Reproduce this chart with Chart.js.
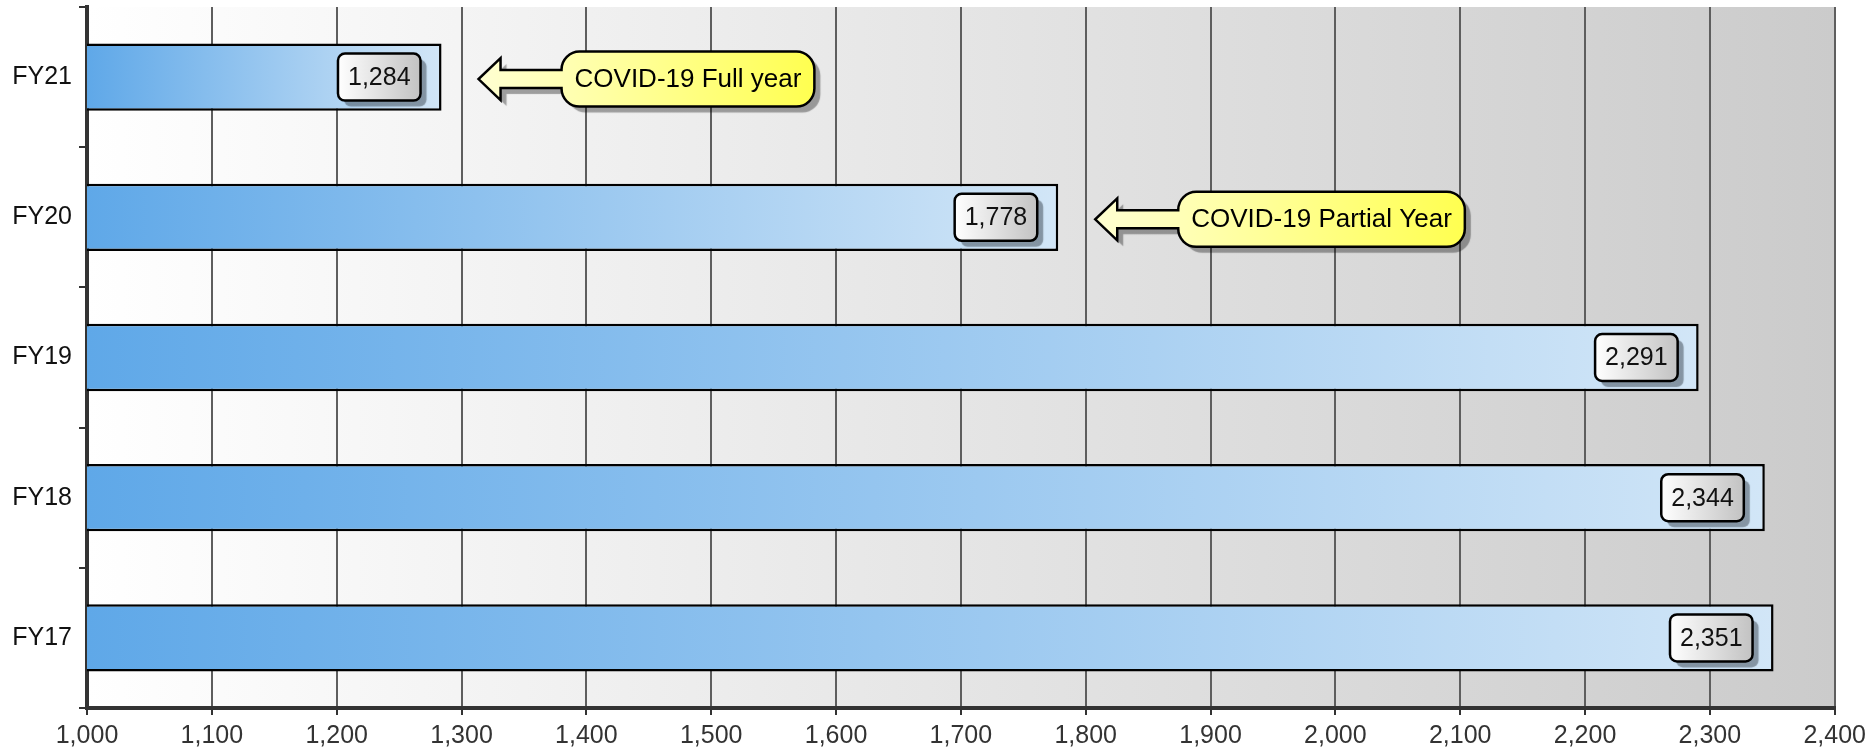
<!DOCTYPE html>
<html>
<head>
<meta charset="utf-8">
<script src="https://cdn.jsdelivr.net/npm/chart.js@4"></script>
<style>
  body { margin: 0; background: #fff; }
  #wrap { width: 1872px; height: 755px; }
</style>
</head>
<body>
<div id="wrap"><canvas id="myChart" width="1872" height="755"></canvas></div>
<script>
// data
var categories = ['FY21', 'FY20', 'FY19', 'FY18', 'FY17'];
var values = [1284, 1778, 2291, 2344, 2351];
var notes = ['COVID-19 Full year', 'COVID-19 Partial Year', '', '', ''];
var xMin = 1000;
var xMax = 2400;
var xStep = 100;

var FONT = '"Liberation Sans", Arial, sans-serif';

function roundRect(ctx, x, y, w, h, r) {
  ctx.beginPath();
  ctx.moveTo(x + r, y);
  ctx.arcTo(x + w, y, x + w, y + h, r);
  ctx.arcTo(x + w, y + h, x, y + h, r);
  ctx.arcTo(x, y + h, x, y, r);
  ctx.arcTo(x, y, x + w, y, r);
  ctx.closePath();
}

/* plot background */
var bgPlugin = {
  id: 'bg',
  beforeDraw: function(chart) {
    var ctx = chart.ctx, a = chart.chartArea;
    var g = ctx.createLinearGradient(a.left, 0, a.right, 0);
    g.addColorStop(0, '#ffffff');
    g.addColorStop(1, '#cbcbcb');
    ctx.save();
    ctx.fillStyle = g;
    ctx.fillRect(a.left, a.top, a.right - a.left, a.bottom - a.top);
    ctx.restore();
  }
};

/* value boxes and callouts */
var labelPlugin = {
  id: 'labels',
  afterDatasetsDraw: function(chart) {
    var ctx = chart.ctx;
    var meta = chart.getDatasetMeta(0);
    ctx.save();
    meta.data.forEach(function(bar, i) {
      var txt = values[i].toLocaleString('en-US');
      var end = bar.x, cy = bar.y;

      // value box
      ctx.font = '25px ' + FONT;
      var tw = ctx.measureText(txt).width;
      var bw = tw + 20, bh = 47;
      var bx = end - 21 - bw, by = cy - bh / 2;
      ctx.save();
      ctx.shadowColor = 'rgba(40,50,60,0.45)';
      ctx.shadowOffsetX = 6;
      ctx.shadowOffsetY = 6;
      ctx.shadowBlur = 1;
      var g = ctx.createLinearGradient(bx, 0, bx + bw, 0);
      g.addColorStop(0, '#ffffff');
      g.addColorStop(1, '#c2c2c2');
      roundRect(ctx, bx, by, bw, bh, 7);
      ctx.fillStyle = g;
      ctx.fill();
      ctx.restore();
      roundRect(ctx, bx, by, bw, bh, 7);
      ctx.lineWidth = 2.5;
      ctx.strokeStyle = '#000';
      ctx.stroke();
      ctx.fillStyle = '#111';
      ctx.textAlign = 'center';
      ctx.textBaseline = 'middle';
      ctx.fillText(txt, bx + bw / 2, cy + 1);

      // callout with arrow
      if (notes[i]) {
        ctx.font = '26px ' + FONT;
        var nw = ctx.measureText(notes[i]).width;
        var tx = end + 37;
        var hx = tx + 22;
        var cx = tx + 83;
        var cw = nw + 26, ch = 55, r = 18;
        var cyy = cy + 2;
        var top = cyy - ch / 2;
        ctx.beginPath();
        ctx.moveTo(cx + r, top);
        ctx.arcTo(cx + cw, top, cx + cw, top + ch, r);
        ctx.arcTo(cx + cw, top + ch, cx, top + ch, r);
        ctx.arcTo(cx, top + ch, cx, cyy + 9, r);
        ctx.lineTo(cx, cyy + 9);
        ctx.lineTo(hx, cyy + 9);
        ctx.lineTo(hx, cyy + 21);
        ctx.lineTo(tx, cyy);
        ctx.lineTo(hx, cyy - 21);
        ctx.lineTo(hx, cyy - 9);
        ctx.lineTo(cx, cyy - 9);
        ctx.arcTo(cx, top, cx + r, top, r);
        ctx.closePath();
        var yg = ctx.createLinearGradient(tx, 0, cx + cw, 0);
        yg.addColorStop(0, '#ffffd2');
        yg.addColorStop(0.25, '#ffffb4');
        yg.addColorStop(1, '#ffff50');
        ctx.save();
        ctx.shadowColor = 'rgba(0,0,0,0.35)';
        ctx.shadowOffsetX = 6;
        ctx.shadowOffsetY = 6;
        ctx.shadowBlur = 1;
        ctx.fillStyle = yg;
        ctx.fill();
        ctx.restore();
        ctx.lineWidth = 2.5;
        ctx.lineJoin = 'miter';
        ctx.strokeStyle = '#000';
        ctx.stroke();
        ctx.fillStyle = '#000';
        ctx.textAlign = 'left';
        ctx.textBaseline = 'middle';
        ctx.fillText(notes[i], cx + 13, cyy + 1);
      }
    });
    ctx.restore();
  }
};

function barFill(c) {
  var chart = c.chart;
  if (!chart.chartArea) return '#7db8ec';
  var x0 = chart.scales.x.getPixelForValue(xMin);
  var x1 = chart.scales.x.getPixelForValue(values[c.dataIndex]);
  var g = chart.ctx.createLinearGradient(x0, 0, x1, 0);
  g.addColorStop(0, '#5fa8e8');
  g.addColorStop(1, '#d2e6f7');
  return g;
}

var canvas = document.getElementById('myChart');
var chart = new Chart(canvas, {
  type: 'bar',
  data: {
    labels: categories,
    datasets: [{
      label: 'Value',
      data: values,
      backgroundColor: barFill,
      borderColor: '#000',
      borderWidth: 2.5,
      borderSkipped: false,
      barPercentage: 0.48,
      categoryPercentage: 1
    }]
  },
  options: {
    indexAxis: 'y',
    responsive: false,
    animation: false,
    devicePixelRatio: 1,
    layout: { padding: { left: 0, right: 36, top: 7, bottom: 0 } },
    plugins: {
      legend: { display: false },
      tooltip: { enabled: false },
      title: { display: false }
    },
    scales: {
      x: {
        type: 'linear',
        min: xMin,
        max: xMax,
        afterFit: function(s) { s.height = 47; },
        ticks: {
          stepSize: xStep,
          padding: 6,
          color: '#333',
          font: { family: FONT, size: 25 },
          callback: function(v) { return v.toLocaleString('en-US'); }
        },
        grid: {
          color: '#5e5e5e',
          lineWidth: 2,
          drawTicks: true,
          tickLength: 7,
          tickColor: '#333',
          tickWidth: 2
        },
        border: { display: true, color: '#333', width: 4 }
      },
      y: {
        afterFit: function(s) {
          s.width = 87;
          s.paddingTop = 0;
          s.paddingBottom = 0;
        },
        ticks: {
          padding: 7,
          color: '#111',
          font: { family: FONT, size: 25 }
        },
        grid: {
          offset: true,
          drawOnChartArea: false,
          drawTicks: true,
          tickLength: 8,
          color: '#333',
          lineWidth: 2
        },
        border: { display: true, color: '#333', width: 4 }
      }
    }
  },
  plugins: [bgPlugin, labelPlugin]
});
</script>
</body>
</html>
